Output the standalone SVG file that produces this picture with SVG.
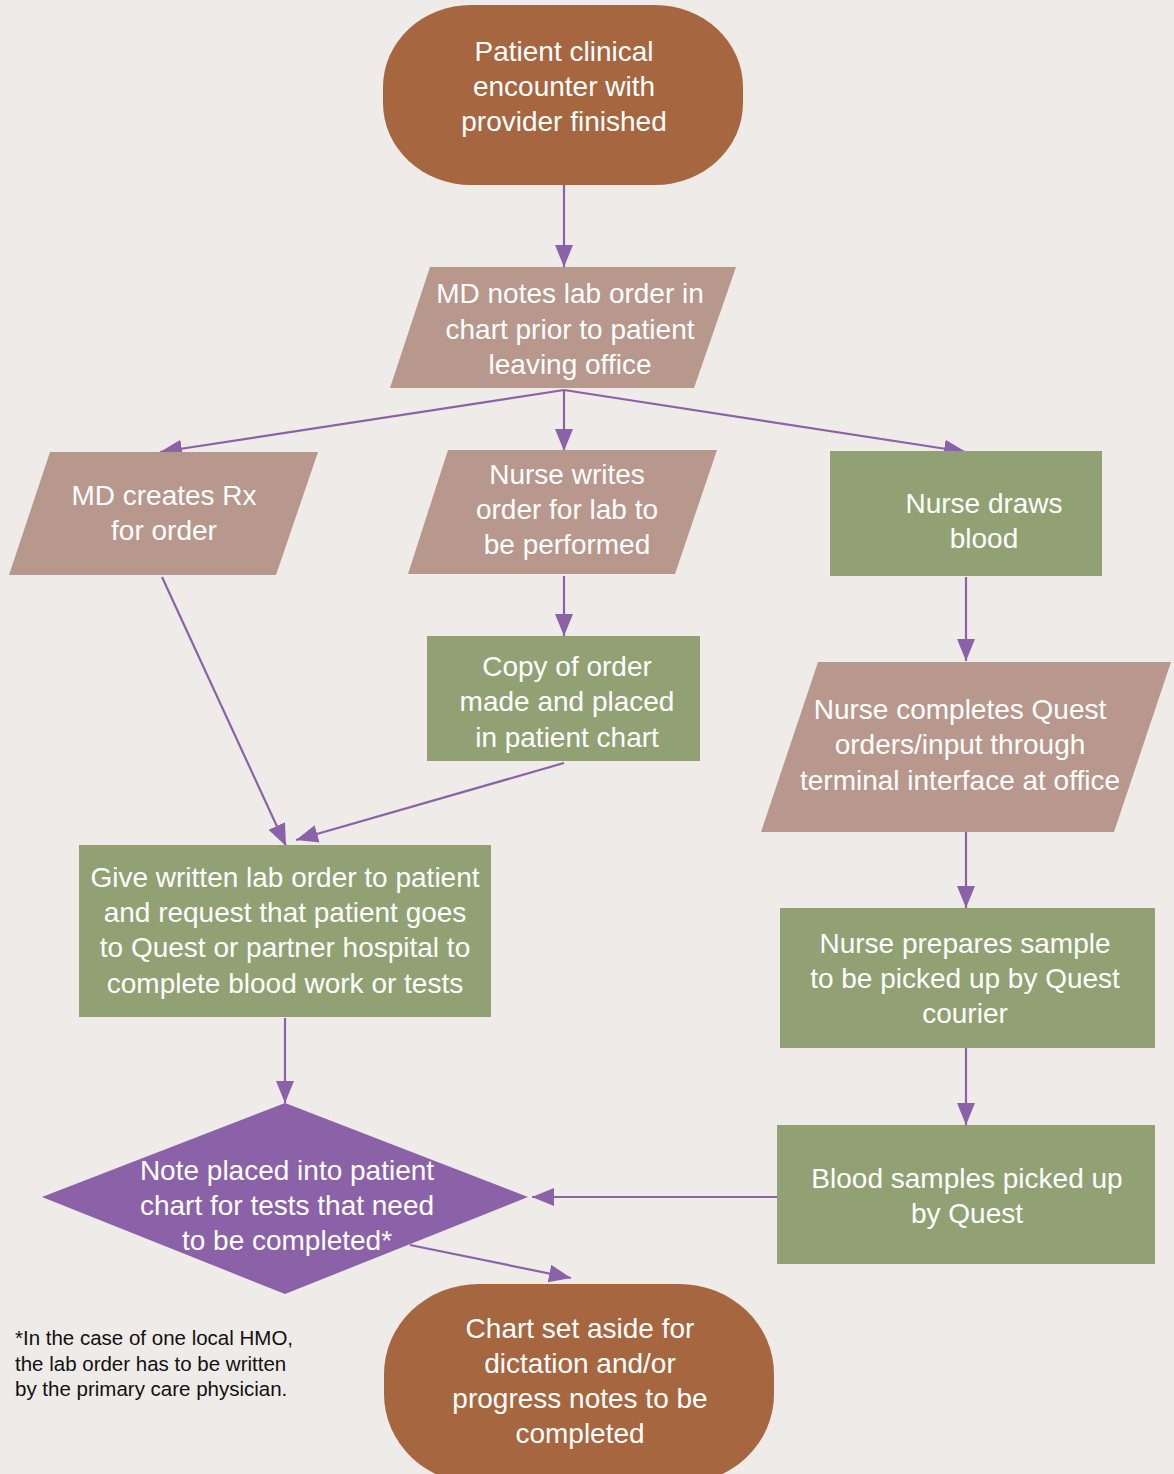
<svg xmlns="http://www.w3.org/2000/svg" width="1174" height="1474" viewBox="0 0 1174 1474">
<defs>
<marker id="ah" markerUnits="userSpaceOnUse" markerWidth="22" markerHeight="18" viewBox="0 0 22 18" refX="22" refY="9" orient="auto">
<path d="M0,0 L22,9 L0,18 Z" fill="#8b62a8"/>
</marker>
<style>
.t{fill:#a66640}
.p{fill:#b8978c}
.g{fill:#91a173}
.d{fill:#8b62a8}
.lbl{font-family:"Liberation Sans",Arial,sans-serif;font-size:28px;fill:#ffffff;text-anchor:middle}
.note{font-family:"Liberation Sans",Arial,sans-serif;font-size:20.5px;fill:#111111}
.c{stroke:#8b62a8;stroke-width:2.2;fill:none;marker-end:url(#ah)}
</style>
</defs>
<rect width="1174" height="1474" fill="#efebe8"/>
<g id="connectors">
<path class="c" d="M564,185 L564,267"/>
<path class="c" d="M564,390 L160,452"/>
<path class="c" d="M564,390 L564,451"/>
<path class="c" d="M564,390 L966,452"/>
<path class="c" d="M564,576 L564,636"/>
<path class="c" d="M966,577 L966,661"/>
<path class="c" d="M966,832 L966,908"/>
<path class="c" d="M966,1048 L966,1125"/>
<path class="c" d="M777,1197 L532,1197"/>
<path class="c" d="M162,577 L286,846"/>
<path class="c" d="M564,763 L296,840"/>
<path class="c" d="M285,1018 L285,1103"/>
<path class="c" d="M410,1245 L571,1278"/>
</g>
<g id="n1">
<rect class="t" x="383" y="5" width="360" height="180" rx="88" ry="82"/>
<text class="lbl" x="564" y="61">Patient clinical</text>
<text class="lbl" x="564" y="96">encounter with</text>
<text class="lbl" x="564" y="131">provider finished</text>
</g>
<g id="n2">
<polygon class="p" points="430,267 736,267 694,388 390,388"/>
<text class="lbl" x="570" y="303">MD notes lab order in</text>
<text class="lbl" x="570" y="339">chart prior to patient</text>
<text class="lbl" x="570" y="374">leaving office</text>
</g>
<g id="n3">
<polygon class="p" points="50,452 318,452 276,575 9,575"/>
<text class="lbl" x="164" y="505">MD creates Rx</text>
<text class="lbl" x="164" y="540">for order</text>
</g>
<g id="n4">
<polygon class="p" points="448,450 717,450 675,574 408,574"/>
<text class="lbl" x="567" y="484">Nurse writes</text>
<text class="lbl" x="567" y="519">order for lab to</text>
<text class="lbl" x="567" y="554">be performed</text>
</g>
<g id="n5">
<rect class="g" x="830" y="451" width="272" height="125"/>
<text class="lbl" x="984" y="513">Nurse draws</text>
<text class="lbl" x="984" y="548">blood</text>
</g>
<g id="n6">
<rect class="g" x="427" y="636" width="273" height="125"/>
<text class="lbl" x="567" y="676">Copy of order</text>
<text class="lbl" x="567" y="711">made and placed</text>
<text class="lbl" x="567" y="747">in patient chart</text>
</g>
<g id="n7">
<polygon class="p" points="818,662 1171,662 1114,832 761,832"/>
<text class="lbl" x="960" y="719">Nurse completes Quest</text>
<text class="lbl" x="960" y="754">orders/input through</text>
<text class="lbl" x="960" y="790">terminal interface at office</text>
</g>
<g id="n8">
<rect class="g" x="780" y="908" width="375" height="140"/>
<text class="lbl" x="965" y="953">Nurse prepares sample</text>
<text class="lbl" x="965" y="988">to be picked up by Quest</text>
<text class="lbl" x="965" y="1023">courier</text>
</g>
<g id="n9">
<rect class="g" x="777" y="1125" width="378" height="139"/>
<text class="lbl" x="967" y="1188">Blood samples picked up</text>
<text class="lbl" x="967" y="1223">by Quest</text>
</g>
<g id="n10">
<rect class="g" x="79" y="845" width="412" height="172"/>
<text class="lbl" x="285" y="887">Give written lab order to patient</text>
<text class="lbl" x="285" y="922">and request that patient goes</text>
<text class="lbl" x="285" y="957">to Quest or partner hospital to</text>
<text class="lbl" x="285" y="993">complete blood work or tests</text>
</g>
<g id="n11">
<polygon class="d" points="285,1103 528,1197 285,1294 42,1197"/>
<text class="lbl" x="287" y="1180">Note placed into patient</text>
<text class="lbl" x="287" y="1215">chart for tests that need</text>
<text class="lbl" x="287" y="1250">to be completed*</text>
</g>
<g id="n12">
<rect class="t" x="384" y="1284" width="390" height="200" rx="95" ry="90"/>
<text class="lbl" x="580" y="1338">Chart set aside for</text>
<text class="lbl" x="580" y="1373">dictation and/or</text>
<text class="lbl" x="580" y="1408">progress notes to be</text>
<text class="lbl" x="580" y="1443">completed</text>
</g>
<g id="footnote">
<text class="note" x="15" y="1345">*In the case of one local HMO,</text>
<text class="note" x="15" y="1371">the lab order has to be written</text>
<text class="note" x="15" y="1396">by the primary care physician.</text>
</g>
</svg>
